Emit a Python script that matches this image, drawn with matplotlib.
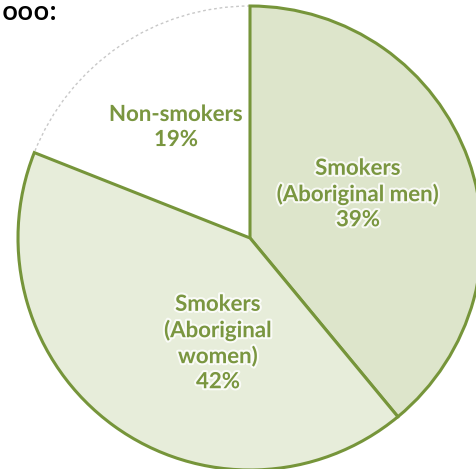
import matplotlib
matplotlib.use("Agg")
import matplotlib.pyplot as plt
import matplotlib.patheffects as pe

# data
labels = ["Smokers\n(Aboriginal men)\n39%", "Smokers\n(Aboriginal\nwomen)\n42%", "Non-smokers\n19%"]
shares = [39, 42, 19]
fills = ["#dde5cb", "#e7edda", "#ffffff"]

green = "#76953a"
text_green = "#7a9640"

fig = plt.figure(figsize=(4.77, 4.69), dpi=100)
ax = fig.add_axes([0, 0, 1, 1])

cx, cy, r = 250, 469 - 238, 232

wedges, _ = ax.pie(shares, colors=fills, startangle=90, counterclock=False,
                   center=(cx, cy), radius=r, frame=True,
                   wedgeprops=dict(edgecolor=green, linewidth=2.2))
ax.set_xlim(0, 477)
ax.set_ylim(0, 469)
ax.set_aspect("equal")
ax.axis("off")

# non-smokers slice has only a faint dotted rim
wedges[2].set_edgecolor("#c8c8c8")
wedges[2].set_linestyle((0, (2, 2)))
wedges[2].set_linewidth(1.0)
wedges[2].set_zorder(0)

# label positions (pixel coords, top-down)
label_pos = [(358, 194), (218, 343), (176, 127)]
for lab, (x, y) in zip(labels, label_pos):
    ax.text(x, 469 - y, lab, ha="center", va="center", color=text_green,
            fontsize=16, fontweight="bold", family="Lato", linespacing=1.24,
            path_effects=[pe.withStroke(linewidth=3, foreground="white", alpha=0.8)])

fig.text(0.004, 0.997, "ooo:", ha="left", va="top", fontsize=19, fontweight="semibold",
         family="Open Sans", color="black")

fig.savefig("out.png", dpi=100)
